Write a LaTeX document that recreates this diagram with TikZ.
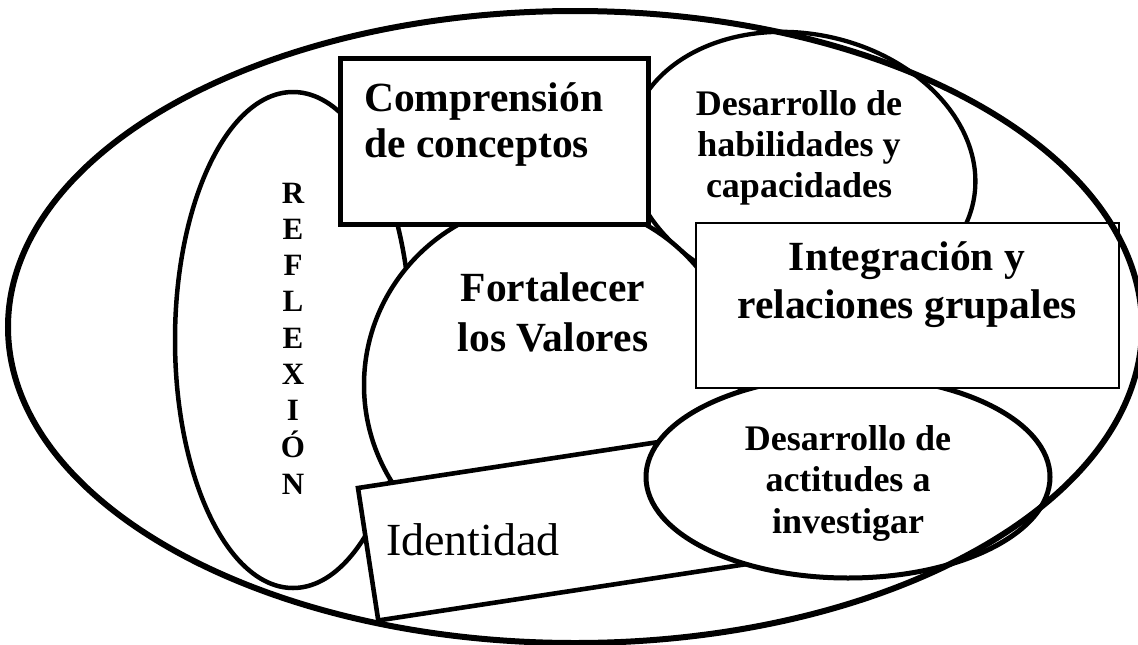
\documentclass[tikz,border=0pt]{standalone}
\usepackage{fontspec}
\setmainfont{Liberation Serif}
\begin{document}
\begin{tikzpicture}[x=1pt,y=-1pt,
  shapeline/.style={line width=4.5pt, fill=white},
  lbl/.style={inner sep=0pt, anchor=base},
  bigbold/.style={font=\fontsize{41.5}{48}\selectfont\bfseries},
  midbold/.style={font=\fontsize{36}{41.5}\selectfont\bfseries},
]
\fill[white] (0,0) rectangle (1138,645);
\useasboundingbox (0,0) rectangle (1138,645);
% Reflexion
\draw[shapeline] (293,340) ellipse [x radius=118pt, y radius=248pt];
% Habilidades
\draw[shapeline, line width=4.3pt, rotate around={-12:(802,166)}] (802,166) ellipse [x radius=175pt, y radius=132pt];
% Fortalecer
\draw[shapeline] (552,385) ellipse [x radius=188pt, y radius=185pt];
% Comprension box
\draw[line width=5pt, fill=white] (340,58) rectangle (648,224);
% Identidad box
\draw[line width=4.6pt, fill=white, rotate around={8.7:(358,488)}] (358,488) rectangle ++(480,134);
% Actitudes
\draw[shapeline, line width=5pt] (848,477) ellipse [x radius=202pt, y radius=101pt];
% Integracion box
\draw[line width=1.8pt, fill=white] (696,223) rectangle (1119,388);
% Outer ellipse
\draw[line width=6pt] (575,327) ellipse [x radius=567pt, y radius=316pt];

% Texts
\node[lbl, font=\fontsize{31}{36.25}\selectfont\bfseries] (refl) at (293,203)
  {\begin{tabular}[t]{@{}c@{}}R\\E\\F\\L\\E\\X\\I\\Ó\\N\end{tabular}};
\node[lbl, anchor=base west, font=\fontsize{41.5}{46}\selectfont\bfseries] (comp) at (364,111)
  {\begin{tabular}[t]{@{}l@{}}Comprensión\\de conceptos\end{tabular}};
\node[lbl, font=\fontsize{36}{41}\selectfont\bfseries] (habi) at (799,115)
  {\begin{tabular}[t]{@{}c@{}}Desarrollo de\\habilidades y\\capacidades\end{tabular}};
\node[lbl, font=\fontsize{41.5}{50}\selectfont\bfseries] (fort) at (553,301)
  {\begin{tabular}[t]{@{}c@{}}Fortalecer\\los Valores\end{tabular}};
\node[lbl, font=\fontsize{41.5}{48}\selectfont\bfseries] (integ) at (907,270)
  {\begin{tabular}[t]{@{}c@{}}Integración y\\relaciones grupales\end{tabular}};
\node[lbl, font=\fontsize{36}{41.5}\selectfont\bfseries] (acti) at (848,450)
  {\begin{tabular}[t]{@{}c@{}}Desarrollo de\\actitudes a\\investigar\end{tabular}};
\node[lbl, anchor=base west, font=\fontsize{46}{50}\selectfont] (iden) at (386,555) {Identidad};
\end{tikzpicture}
\end{document}
